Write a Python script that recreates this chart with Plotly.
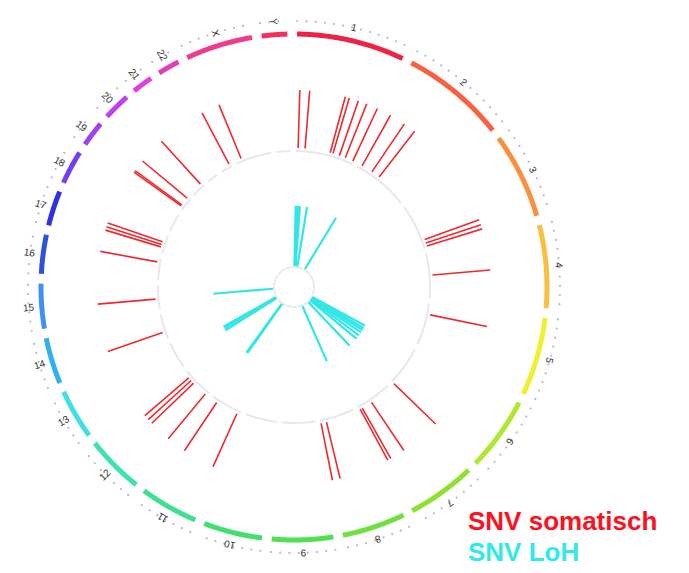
import numpy as np
import plotly.graph_objects as go

# ---------------- data ----------------
chrom_names = ['1', '2', '3', '4', '5', '6', '7', '8', '9', '10', '11', '12',
               '13', '14', '15', '16', '17', '18', '19', '20', '21', '22', 'X', 'Y']
chrom_lengths_mb = [249, 243, 198, 191, 181, 171, 159, 146, 141, 136, 135, 134,
                    115, 107, 103, 90, 81, 78, 59, 63, 48, 51, 155, 59]
chrom_colors = ['#ee2244', '#f86040', '#f89040', '#f8c040', '#f0f030', '#b0e830',
                '#90e030', '#70e040', '#50e050', '#40e070', '#40e090', '#40e0b0',
                '#40e0e0', '#30b0f0', '#4090f0', '#3050e0', '#3030e0', '#7040f0',
                '#a040f0', '#c040f0', '#e040e0', '#e040c0', '#f03c8c', '#f03060']

# somatic SNVs (chromosome, position in Mb)
snv_som_chr = ['1', '1', '1', '1', '1', '1', '1', '2', '2', '2',
               '3', '3', '3', '4', '5', '6', '7', '7', '7', '8', '8',
               '11', '11', '12', '12', '12', '12', '14', '15', '16',
               '17', '17', '17', '19', '19', '19', '20', '22', 'X']
snv_som_pos = [10, 39, 145, 157, 185, 211, 245, 17, 65, 102,
               162, 177, 190, 93, 46, 170, 98, 143, 153, 122, 145,
               13, 109, 11, 77, 92, 107, 32, 45, 75,
               27, 37, 49, 14, 19, 55, 54, 44, 26]

# LoH SNVs (chromosome, position in Mb)
snv_loh_chr = ['1', '1', '1', '1', '1', '2', '6', '6', '6', '6', '6', '6',
               '7', '8', '11', '11', '13', '13', '13', '15']
snv_loh_pos = [5, 15, 25, 35, 86, 37, 14, 34, 50, 70, 95, 125,
               2, 18, 123, 131, 36, 51, 66, 47]

legend_labels = ['SNV somatisch', 'SNV LoH']
legend_colors = ['#ff1020', '#30eaea']

# ---------------- layout constants ----------------
START_DEG = 0.7
GAP_DEG = 2.2
R_RING = 253
R_TICKS = 266
R_GRAY = 136
R_CORE = 20
R_SOM = (139, 197)
R_LOH = (21, 81)
R_MAX = 275
TICK_STEP = 20

total = sum(chrom_lengths_mb)
scale = (360 - GAP_DEG * len(chrom_names)) / total
starts = {}
cum = 0
for i, (n, L) in enumerate(zip(chrom_names, chrom_lengths_mb)):
    starts[n] = START_DEG + i * GAP_DEG + cum * scale
    cum += L


def angle(c, p):
    return starts[c] + p * scale


fig = go.Figure()

# chromosome ring, gray circles, tick dots
for n, L, col in zip(chrom_names, chrom_lengths_mb, chrom_colors):
    th = np.linspace(angle(n, 0), angle(n, L), 60)
    for r, w, c in [(R_GRAY, 2, '#e8e8e8'), (R_CORE, 2, '#e8e8e8'), (R_RING, 5, col)]:
        fig.add_trace(go.Scatterpolar(r=[r] * len(th), theta=th, mode='lines',
                                      line=dict(color=c, width=w), hoverinfo='skip',
                                      showlegend=False))
    tpos = np.arange(0, L + 1, TICK_STEP)
    fig.add_trace(go.Scatterpolar(r=[R_TICKS] * len(tpos), theta=[angle(n, p) for p in tpos],
                                  mode='markers', marker=dict(color='#b4b4e4', size=2.2),
                                  hoverinfo='skip', showlegend=False))


def segs(chrs, poss, r0, r1):
    rr, tt = [], []
    for c, p in zip(chrs, poss):
        a = angle(c, p)
        rr += [r0, r1, None]
        tt += [a, a, None]
    return rr, tt


rr, tt = segs(snv_som_chr, snv_som_pos, *R_SOM)
fig.add_trace(go.Scatterpolar(r=rr, theta=tt, mode='lines', connectgaps=False,
                              line=dict(color='#ee2a30', width=1.6), hoverinfo='skip',
                              showlegend=False))
rr, tt = segs(snv_loh_chr, snv_loh_pos, *R_LOH)
fig.add_trace(go.Scatterpolar(r=rr, theta=tt, mode='lines', connectgaps=False,
                              line=dict(color='#33e6e6', width=2.2), hoverinfo='skip',
                              showlegend=False))

# geometry of the square plotting area (pixels)
W, H = 689, 573
cx, cy = 286, 279
x0, x1 = (cx - R_MAX) / W, (cx + R_MAX) / W
y0, y1 = (H - (cy + R_MAX)) / H, (H - (cy - R_MAX)) / H

# chromosome labels via an invisible cartesian overlay
lab_x, lab_y, annotations = [], [], []
for n, L in zip(chrom_names, chrom_lengths_mb):
    a = angle(n, L / 2)
    x = R_TICKS * np.sin(np.radians(a))
    y = R_TICKS * np.cos(np.radians(a))
    lab_x.append(x)
    lab_y.append(y)
    rot = a if a <= 225 else a - 270
    annotations.append(dict(x=x, y=y, xref='x', yref='y', text=n, showarrow=False,
                            textangle=rot, font=dict(size=10, color='#333333',
                                                     family='Liberation Sans, Arial')))
fig.add_trace(go.Scatter(x=lab_x, y=lab_y, mode='markers', marker=dict(opacity=0),
                         hoverinfo='skip', showlegend=False, xaxis='x', yaxis='y'))

for k, yc in enumerate([513, 544]):
    annotations.append(dict(x=459 / W, y=1 - yc / H, xref='paper', yref='paper',
                            xanchor='left', yanchor='middle', showarrow=False,
                            borderpad=0,
                            text='<b>' + legend_labels[k] + '</b>',
                            font=dict(size=26, color=legend_colors[k],
                                      family='Liberation Sans, Arial')))

fig.update_layout(
    width=W, height=H,
    margin=dict(l=0, r=0, t=0, b=0),
    paper_bgcolor='white', plot_bgcolor='white',
    polar=dict(
        domain=dict(x=[x0, x1], y=[y0, y1]),
        bgcolor='white',
        radialaxis=dict(range=[0, R_MAX], visible=False),
        angularaxis=dict(rotation=90, direction='clockwise', visible=False),
    ),
    xaxis=dict(domain=[x0, x1], range=[-R_MAX, R_MAX], visible=False, fixedrange=True),
    yaxis=dict(domain=[y0, y1], range=[-R_MAX, R_MAX], visible=False, fixedrange=True),
    annotations=annotations,
    showlegend=False,
)

fig.write_html('out.html')
